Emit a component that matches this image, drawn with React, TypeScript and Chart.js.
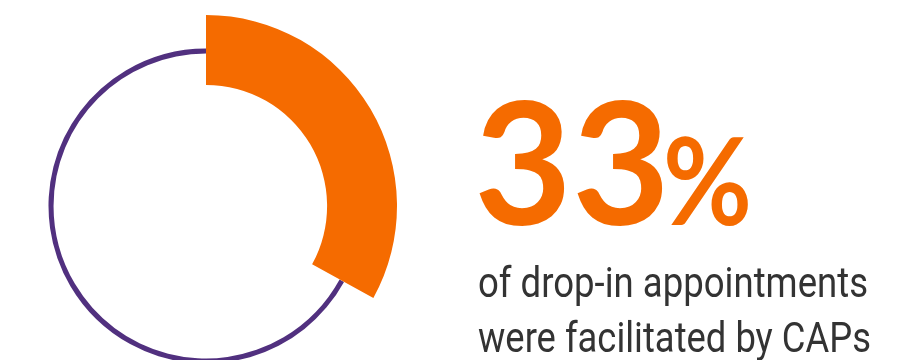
import React, { useEffect, useRef } from "react";
import { Chart, registerables } from "chart.js";

Chart.register(...registerables);

// ---- data ----
const categories = ["Facilitated by CAPs", "Other drop-in appointments"];
const shares = [33, 67];
const headlineValue = "33";
const headlineUnit = "%";
const captionLines = ["of drop-in appointments", "were facilitated by CAPs"];

const ORANGE = "#F56B00";
const PURPLE = "#51307F";

function makeRing(canvas: HTMLCanvasElement, colors: string[], radius: number, cutout: string) {
  return new Chart(canvas, {
    type: "doughnut",
    data: {
      labels: categories,
      datasets: [
        {
          data: shares,
          backgroundColor: colors,
          borderWidth: 0,
          hoverOffset: 0,
        },
      ],
    },
    options: {
      responsive: false,
      animation: false,
      events: [],
      radius,
      cutout,
      rotation: 0,
      layout: { padding: 0 },
      plugins: { legend: { display: false }, tooltip: { enabled: false } },
    },
  });
}

export default function App() {
  const ringRef = useRef<HTMLCanvasElement>(null);
  const arcRef = useRef<HTMLCanvasElement>(null);

  useEffect(() => {
    const ring = makeRing(ringRef.current!, ["rgba(0,0,0,0)", PURPLE], 157.5, "96.8%");
    const arc = makeRing(arcRef.current!, [ORANGE, "rgba(0,0,0,0)"], 191, "63.4%");
    return () => {
      ring.destroy();
      arc.destroy();
    };
  }, []);

  const canvasStyle: React.CSSProperties = {
    position: "absolute",
    left: 6,
    top: 6,
    width: 400,
    height: 400,
  };

  return (
    <div
      style={{
        position: "fixed",
        left: 0,
        top: 0,
        width: 912,
        height: 360,
        overflow: "hidden",
        background: "#ffffff",
      }}
    >
      <canvas ref={ringRef} width={400} height={400} style={canvasStyle} />
      <canvas ref={arcRef} width={400} height={400} style={canvasStyle} />
      <svg width={912} height={360} style={{ position: "absolute", left: 0, top: 0 }}>
        <text
          x={474}
          y={225}
          fill={ORANGE}
          fontFamily="Lato, 'Open Sans', sans-serif"
          fontWeight={700}
          fontSize={171}
          textLength={196}
          lengthAdjust="spacingAndGlyphs"
        >
          {headlineValue}
        </text>
        <text
          x={663}
          y={225}
          fill={ORANGE}
          fontFamily="Lato, 'Open Sans', sans-serif"
          fontWeight={700}
          fontSize={121}
          textLength={89}
          lengthAdjust="spacingAndGlyphs"
        >
          {headlineUnit}
        </text>
        {captionLines.map((line, i) => (
          <text
            key={i}
            x={478}
            y={297 + i * 55}
            fill="#333333"
            fontFamily="Roboto, 'Liberation Sans', sans-serif"
            fontSize={42}
            textLength={i === 0 ? 390 : 393}
            lengthAdjust="spacingAndGlyphs"
          >
            {line}
          </text>
        ))}
      </svg>
    </div>
  );
}
